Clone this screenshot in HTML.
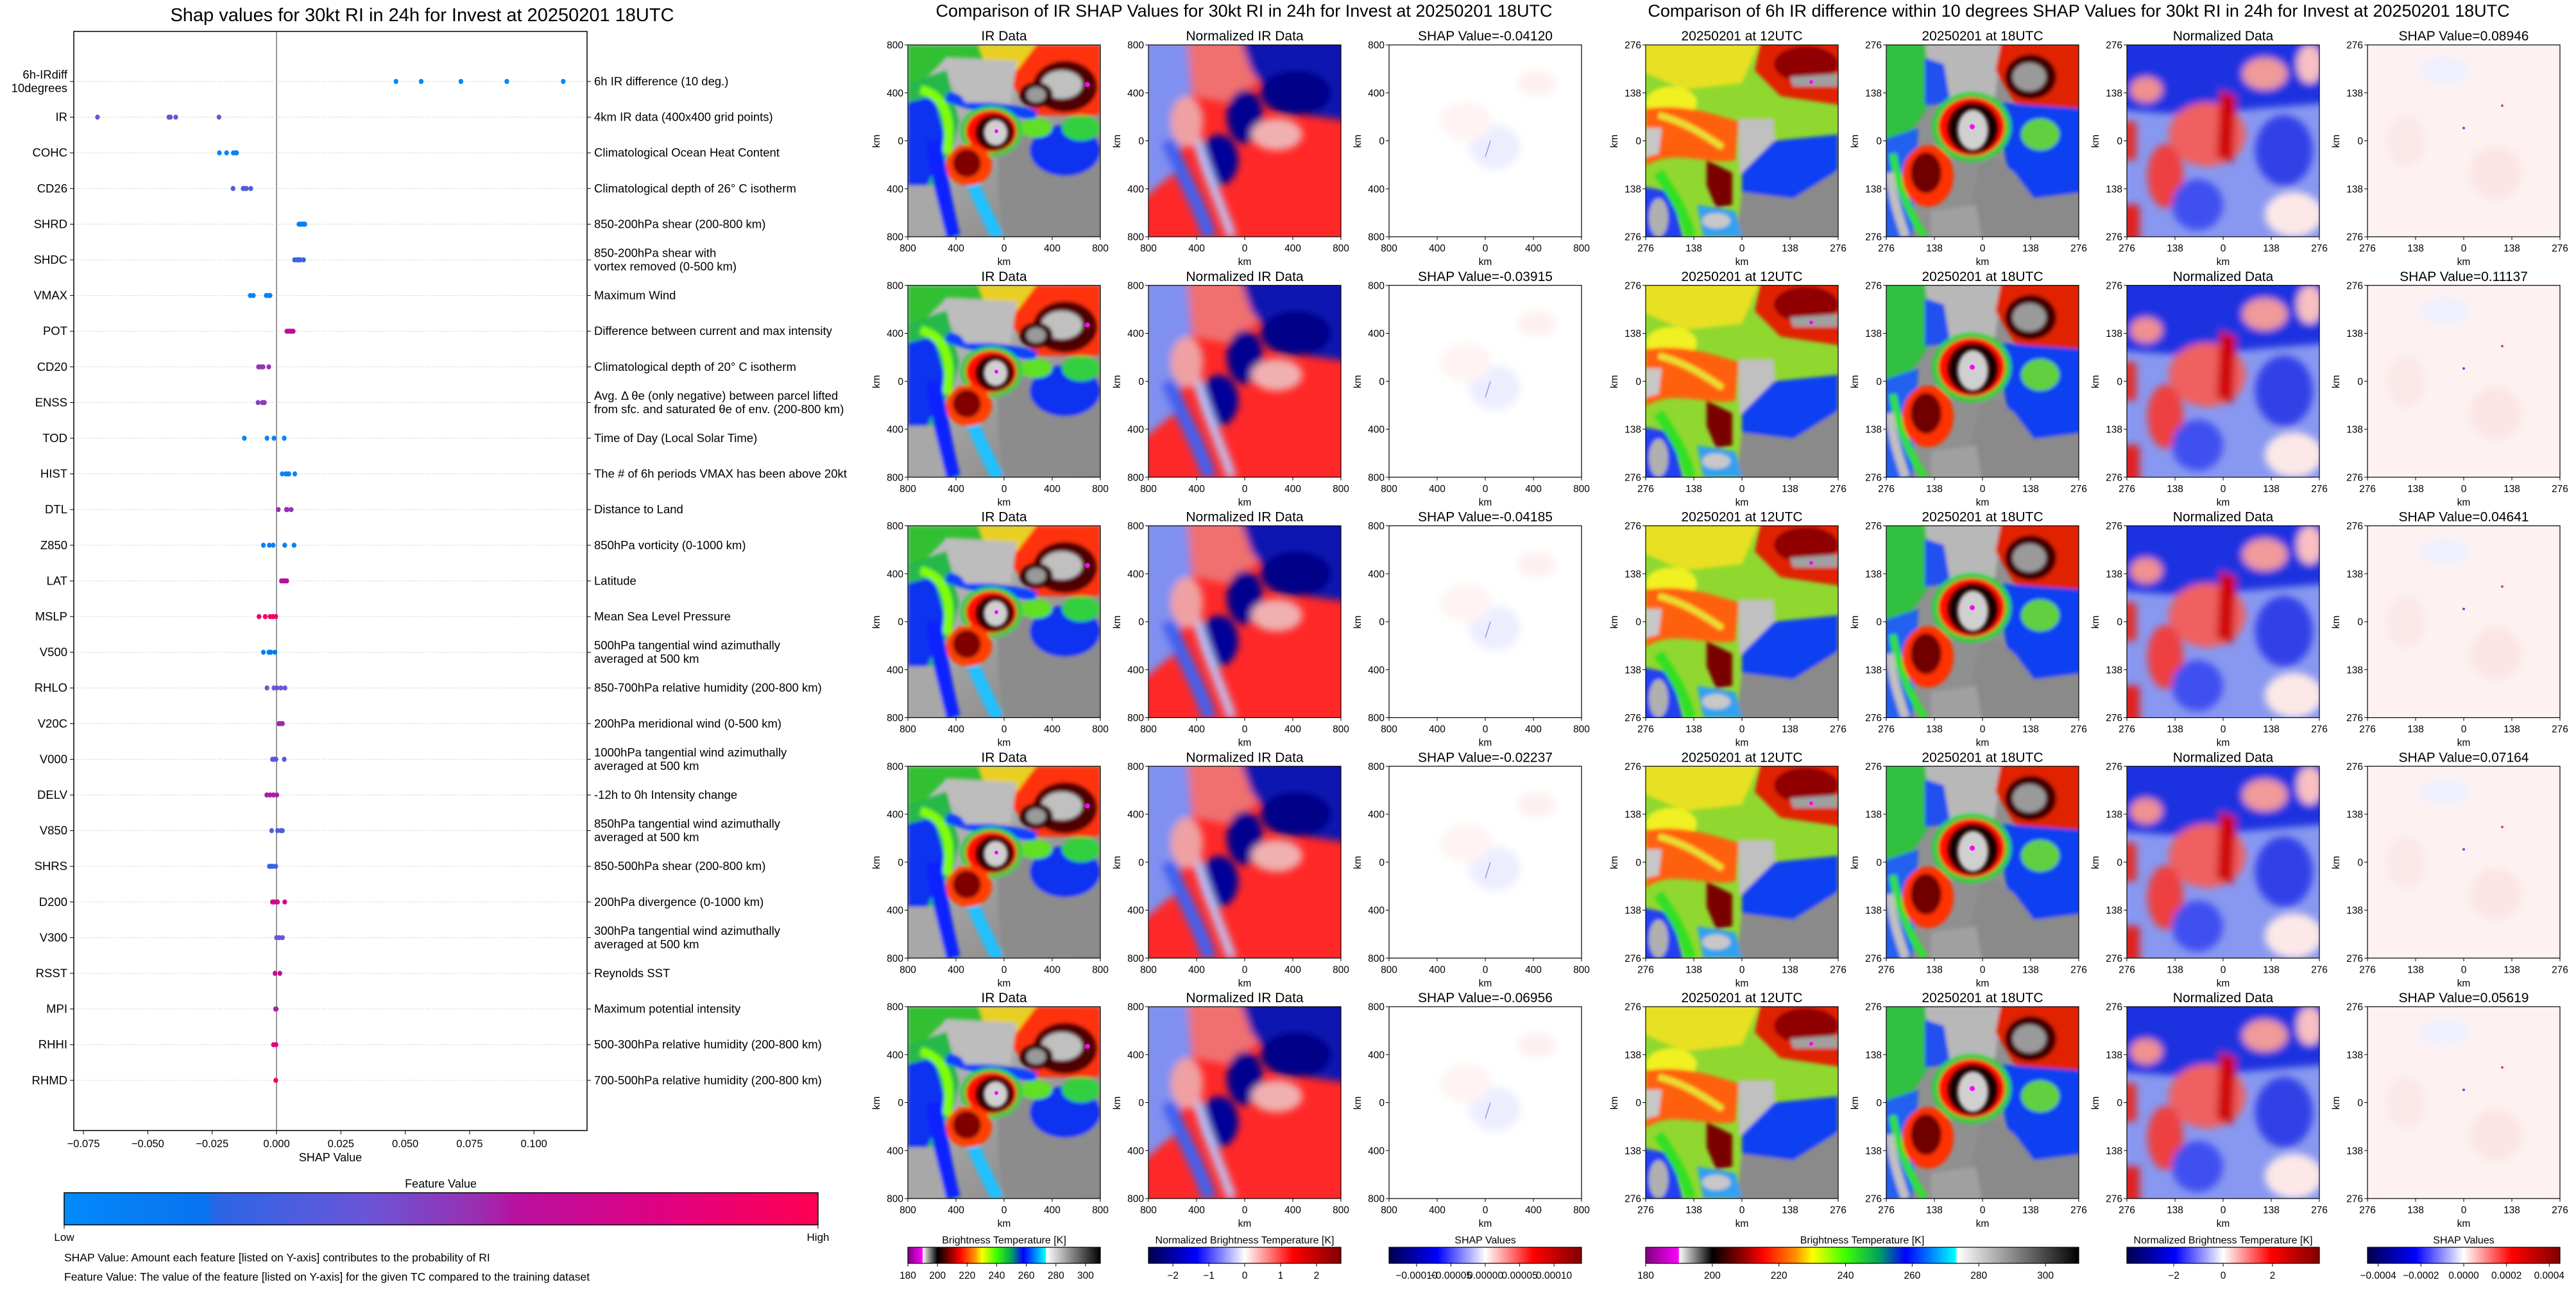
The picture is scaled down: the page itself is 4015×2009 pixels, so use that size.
<!DOCTYPE html>
<html><head><meta charset="utf-8"><style>
html,body{margin:0;padding:0;background:#fff}
svg{display:block;font-family:"Liberation Sans","DejaVu Sans",sans-serif}
</style></head><body>
<svg id="root" xmlns="http://www.w3.org/2000/svg" width="4015" height="2009" viewBox="0 0 4015 2009">
<defs>
<filter id="b3" x="-30%" y="-30%" width="160%" height="160%"><feGaussianBlur stdDeviation="3"/></filter>
<filter id="b6" x="-30%" y="-30%" width="160%" height="160%"><feGaussianBlur stdDeviation="6"/></filter>
<clipPath id="cp"><rect x="0" y="0" width="300" height="300"/></clipPath>
<linearGradient id="featGrad" x1="0" x2="1">
<stop offset="0" stop-color="#008afb"/><stop offset="0.19" stop-color="#0a72ee"/><stop offset="0.2" stop-color="#2a66e6"/><stop offset="0.4" stop-color="#6a55d8"/><stop offset="0.55" stop-color="#9a2eb0"/><stop offset="0.6" stop-color="#b8109e"/><stop offset="0.8" stop-color="#e00080"/><stop offset="1" stop-color="#ff0052"/></linearGradient>
<linearGradient id="irGrad" x1="0" x2="1">
<stop offset="0" stop-color="#800080"/><stop offset="0.076" stop-color="#ff00ff"/><stop offset="0.077" stop-color="#ffffff"/><stop offset="0.154" stop-color="#000000"/><stop offset="0.231" stop-color="#a00000"/><stop offset="0.27" stop-color="#ff0000"/><stop offset="0.346" stop-color="#ff9000"/><stop offset="0.385" stop-color="#ffff00"/><stop offset="0.46" stop-color="#40ff00"/><stop offset="0.54" stop-color="#00a060"/><stop offset="0.6" stop-color="#0000ff"/><stop offset="0.715" stop-color="#00ffff"/><stop offset="0.72" stop-color="#ffffff"/><stop offset="1" stop-color="#000000"/></linearGradient>
<linearGradient id="seisGrad" x1="0" x2="1">
<stop offset="0" stop-color="#00004c"/><stop offset="0.25" stop-color="#0000ff"/><stop offset="0.5" stop-color="#ffffff"/><stop offset="0.75" stop-color="#ff0000"/><stop offset="1" stop-color="#800000"/></linearGradient>
<linearGradient id="grayBg" x1="0" y1="0" x2="1" y2="1"><stop offset="0" stop-color="#c8c8c8"/><stop offset="1" stop-color="#7a7a7a"/></linearGradient>

<symbol id="irFull" viewBox="0 0 300 300" preserveAspectRatio="none">
<g clip-path="url(#cp)">
<rect width="300" height="300" fill="url(#grayBg)"/>
<g filter="url(#b3)">
<path d="M140,150 L300,110 L300,300 L150,300 C140,250 140,200 140,150Z" fill="#8c8c8c"/>
<path d="M0,0 L300,0 L300,40 L170,50 L150,30 L60,20 L20,60 L0,120Z" fill="#30c030"/>
<path d="M150,0 L300,0 L300,110 L200,110 L160,60Z" fill="#ff3010"/>
<path d="M110,0 L200,0 L170,40 L120,30Z" fill="#e8d020"/>
<ellipse cx="245" cy="65" rx="50" ry="40" fill="#500000"/>
<ellipse cx="240" cy="62" rx="32" ry="22" fill="#c0c0c0"/>
<ellipse cx="200" cy="78" rx="26" ry="20" fill="#300000"/>
<ellipse cx="200" cy="78" rx="15" ry="12" fill="#9a9a9a"/>
<path d="M0,60 L60,40 L80,120 L60,200 L80,300 L0,300Z" fill="#28b848"/>
<path d="M0,90 L40,80 L60,150 L30,220 L0,220Z" fill="#1030f0"/>
<path d="M20,70 C60,80 70,120 60,170" stroke="#80ff00" stroke-width="14" fill="none"/>
<path d="M40,150 C50,210 60,260 70,300" stroke="#1020ff" stroke-width="24" fill="none"/>
<path d="M80,160 C100,220 120,260 140,300" stroke="#20c0ff" stroke-width="20" fill="none"/>
<path d="M60,80 C110,100 160,100 200,110" stroke="#1040ff" stroke-width="16" fill="none"/>
<ellipse cx="245" cy="165" rx="55" ry="40" fill="#1030f0"/>
<ellipse cx="270" cy="130" rx="30" ry="20" fill="#30d040"/>
<ellipse cx="200" cy="130" rx="25" ry="15" fill="#60e020"/>
<path d="M60,20 L170,25 L160,90 L90,90 L70,60Z" fill="#bdbdbd"/>
<path d="M0,220 L40,220 L60,300 L0,300Z" fill="#a8a8a8"/>
<ellipse cx="130" cy="135" rx="48" ry="40" fill="#20d040"/>
<ellipse cx="130" cy="135" rx="40" ry="33" fill="#ff1000"/>
<ellipse cx="135" cy="137" rx="30" ry="28" fill="#200000"/>
<ellipse cx="95" cy="188" rx="36" ry="32" fill="#ff4000"/>
<ellipse cx="92" cy="185" rx="22" ry="22" fill="#800000"/>
</g>
<ellipse cx="137" cy="137" rx="19" ry="21" fill="#d0d0d0" filter="url(#b3)"/>
<circle cx="138" cy="135" r="3" fill="#ff00ff"/>
<circle cx="280" cy="62" r="4" fill="#ff00ff"/>
</g>
</symbol>

<symbol id="normFull" viewBox="0 0 300 300" preserveAspectRatio="none">
<g clip-path="url(#cp)">
<rect width="300" height="300" fill="#ff2828"/>
<g filter="url(#b6)">
<path d="M-20,-20 L60,-20 L70,100 L40,200 L-20,250Z" fill="#8090f0"/>
<path d="M60,-20 L150,-20 L170,60 L120,90 L70,80Z" fill="#f07070"/>
<path d="M140,-20 L320,-20 L320,120 L250,110 L200,90 L160,40Z" fill="#0818b0"/>
<ellipse cx="230" cy="75" rx="55" ry="35" fill="#000088"/>
<ellipse cx="150" cy="112" rx="28" ry="42" fill="#000090"/>
<ellipse cx="110" cy="180" rx="30" ry="40" fill="#000098"/>
<path d="M30,150 C50,200 80,250 95,300" stroke="#4060f0" stroke-width="22" fill="none"/>
<path d="M70,120 C80,180 110,240 130,300" stroke="#c0c8ff" stroke-width="14" fill="none"/>
<ellipse cx="200" cy="140" rx="40" ry="25" fill="#f0b0b0"/>
<ellipse cx="60" cy="120" rx="25" ry="40" fill="#f0a0a0"/>
</g>
</g>
</symbol>

<symbol id="shapFull" viewBox="0 0 300 300" preserveAspectRatio="none">
<rect width="300" height="300" fill="#ffffff"/>
<g filter="url(#b6)">
<ellipse cx="165" cy="160" rx="40" ry="35" fill="#eceeff"/>
<ellipse cx="230" cy="60" rx="30" ry="20" fill="#fff0f0"/>
<ellipse cx="120" cy="120" rx="40" ry="30" fill="#fff3f3"/>
</g>
<path d="M150,175 L158,150" stroke="#9098e8" stroke-width="1.5"/>
</symbol>

<symbol id="ir12" viewBox="0 0 300 300" preserveAspectRatio="none">
<g clip-path="url(#cp)">
<rect width="300" height="300" fill="#90d830"/>
<g filter="url(#b3)">
<path d="M-10,-10 L180,-10 L150,60 L60,70 L-10,40Z" fill="#e8e020"/>
<ellipse cx="40" cy="90" rx="40" ry="25" fill="#f0f020"/>
<path d="M180,-10 L310,-10 L310,95 L210,80 L170,40Z" fill="#e02000"/>
<ellipse cx="250" cy="30" rx="50" ry="28" fill="#900000"/>
<path d="M225,50 L300,45 L300,65 L230,65Z" fill="#a0a0a0"/>
<path d="M0,100 C60,90 110,110 145,120 L140,180 C100,190 40,160 0,190Z" fill="#ff6010"/>
<path d="M20,110 C60,120 90,140 120,160" stroke="#e8e030" stroke-width="10" fill="none"/>
<path d="M95,180 L135,200 L135,250 L110,255 L95,220Z" fill="#7a0000"/>
<path d="M145,115 L200,115 L205,200 L145,200Z" fill="#c0c0c0"/>
<path d="M200,150 L300,140 L300,195 L240,250 L150,240 L150,200Z" fill="#1040f0"/>
<path d="M150,230 L230,240 L310,190 L310,310 L140,310Z" fill="#8a8a8a"/>
<path d="M0,130 L25,130 L20,170 L0,175Z" fill="#c8c8c8"/>
<path d="M-10,220 L40,230 L60,310 L-10,310Z" fill="#2040f0"/>
<ellipse cx="20" cy="270" rx="15" ry="30" fill="#b0b0b0"/>
<path d="M80,250 L140,260 L150,300 L90,300Z" fill="#30a0f0"/>
<ellipse cx="110" cy="275" rx="22" ry="12" fill="#c8c8c8"/>
<path d="M20,200 C40,230 60,260 70,300" stroke="#30e020" stroke-width="16" fill="none"/>
</g>
<circle cx="258" cy="58" r="3" fill="#ff00ff"/>
</g>
</symbol>

<symbol id="ir18" viewBox="0 0 300 300" preserveAspectRatio="none">
<g clip-path="url(#cp)">
<rect width="300" height="300" fill="#909090"/>
<g filter="url(#b3)">
<path d="M-10,-10 L80,-10 L70,90 L30,150 L-10,160Z" fill="#30c040"/>
<path d="M60,-10 L180,-10 L170,80 L70,90Z" fill="#b8b8b8"/>
<path d="M60,20 L90,30 L100,90 L60,95Z" fill="#2050f0"/>
<path d="M180,-10 L310,-10 L310,120 L200,90 L170,40Z" fill="#e02000"/>
<ellipse cx="225" cy="50" rx="40" ry="35" fill="#400000"/>
<ellipse cx="223" cy="50" rx="26" ry="22" fill="#9a9a9a"/>
<path d="M170,90 L310,100 L310,240 L220,250 L190,200Z" fill="#1040f0"/>
<ellipse cx="240" cy="140" rx="30" ry="25" fill="#60d040"/>
<path d="M150,160 L200,200 L230,240 L310,230 L310,310 L120,310Z" fill="#8a8a8a"/>
<path d="M-10,150 L50,130 L40,310 L-10,310Z" fill="#2060f0"/>
<path d="M10,170 C20,230 40,270 60,300" stroke="#30e030" stroke-width="12" fill="none"/>
<path d="M5,200 C10,240 20,270 30,300" stroke="#c0c0c0" stroke-width="14" fill="none"/>
<path d="M70,260 L140,250 L150,310 L70,310Z" fill="#a0a0a0"/>
<ellipse cx="133" cy="128" rx="62" ry="55" fill="#30d040"/>
<ellipse cx="133" cy="128" rx="52" ry="46" fill="#ff1000"/>
<ellipse cx="135" cy="130" rx="40" ry="40" fill="#150000"/>
<ellipse cx="65" cy="205" rx="40" ry="48" fill="#ff3000"/>
<ellipse cx="62" cy="200" rx="24" ry="32" fill="#700000"/>
</g>
<ellipse cx="135" cy="133" rx="24" ry="32" fill="#d0d0d0" filter="url(#b3)"/>
<circle cx="134" cy="128" r="4" fill="#ff00ff"/>
</g>
</symbol>

<symbol id="normZoom" viewBox="0 0 300 300" preserveAspectRatio="none">
<g clip-path="url(#cp)">
<rect width="300" height="300" fill="#8898f0"/>
<g filter="url(#b6)">
<path d="M-20,-20 L320,-20 L320,90 L200,100 L100,110 L-20,100Z" fill="#1a30e0"/>
<ellipse cx="215" cy="45" rx="35" ry="25" fill="#f09a9a"/>
<ellipse cx="285" cy="30" rx="20" ry="30" fill="#f8c0c0"/>
<ellipse cx="125" cy="140" rx="60" ry="50" fill="#f06060"/>
<path d="M145,70 L170,80 L165,185 L140,175Z" fill="#d00000"/>
<ellipse cx="60" cy="205" rx="28" ry="50" fill="#ee4040"/>
<ellipse cx="245" cy="165" rx="45" ry="55" fill="#3040e8"/>
<ellipse cx="260" cy="265" rx="45" ry="35" fill="#fde8e8"/>
<ellipse cx="110" cy="250" rx="40" ry="40" fill="#4050f0"/>
<path d="M-10,120 L15,120 L15,180 L-10,180Z" fill="#e03030"/>
<path d="M-10,250 L20,250 L20,310 L-10,310Z" fill="#e02020"/>
<ellipse cx="30" cy="70" rx="25" ry="20" fill="#f09090"/>
</g>
</g>
</symbol>

<symbol id="shapZoom" viewBox="0 0 300 300" preserveAspectRatio="none">
<rect width="300" height="300" fill="#fdf1f1"/>
<g filter="url(#b6)">
<ellipse cx="120" cy="40" rx="40" ry="20" fill="#eef0ff"/>
<ellipse cx="200" cy="200" rx="40" ry="40" fill="#fbe4e4"/>
<ellipse cx="60" cy="150" rx="30" ry="40" fill="#fbe8e8"/>
</g>
<circle cx="150" cy="130" r="2" fill="#4060e0"/>
<circle cx="210" cy="95" r="2" fill="#e04040"/>
</symbol>
</defs>

<!-- ============ LEFT: SHAP beeswarm ============ -->
<g id="beeswarm">
<text x="658" y="33" font-size="29" text-anchor="middle">Shap values for 30kt RI in 24h for Invest at 20250201 18UTC</text>
<g id="bsGrid"></g>
<line x1="431" y1="49" x2="431" y2="1762" stroke="#999" stroke-width="2"/>
<g id="bsDots"></g>
<rect x="115" y="49" width="800" height="1713" fill="none" stroke="#000" stroke-width="1.5"/>
<g id="bsXTicks"></g>
<text x="515" y="1810" font-size="18" text-anchor="middle">SHAP Value</text>
<text x="687" y="1851" font-size="18" text-anchor="middle">Feature Value</text>
<rect x="100" y="1859" width="1175" height="50" fill="url(#featGrad)" stroke="#000" stroke-width="1.5"/>
<line x1="100" y1="1909" x2="100" y2="1915" stroke="#000"/><line x1="1275" y1="1909" x2="1275" y2="1915" stroke="#000"/>
<text x="100" y="1934" font-size="17" text-anchor="middle">Low</text>
<text x="1275" y="1934" font-size="17" text-anchor="middle">High</text>
<text x="100" y="1966" font-size="17.5">SHAP Value: Amount each feature [listed on Y-axis] contributes to the probability of RI</text>
<text x="100" y="1996" font-size="17.5">Feature Value: The value of the feature [listed on Y-axis] for the given TC compared to the training dataset</text>
</g>

<!-- ============ MIDDLE & RIGHT panels ============ -->
<text x="1939" y="26" font-size="27" text-anchor="middle">Comparison of IR SHAP Values for 30kt RI in 24h for Invest at 20250201 18UTC</text>
<text x="3240" y="26" font-size="27" text-anchor="middle">Comparison of 6h IR difference within 10 degrees SHAP Values for 30kt RI in 24h for Invest at 20250201 18UTC</text>
<g id="panels"></g>
<g id="cbars"></g>
</svg>

<script>
const NS = "http://www.w3.org/2000/svg";
// ---------- beeswarm data ----------
const features = ["6h-IRdiff|10degrees","IR","COHC","CD26","SHRD","SHDC","VMAX","POT","CD20","ENSS","TOD","HIST","DTL","Z850","LAT","MSLP","V500","RHLO","V20C","V000","DELV","V850","SHRS","D200","V300","RSST","MPI","RHHI","RHMD"];
const descriptions = ["6h IR difference (10 deg.)","4km IR data (400x400 grid points)","Climatological Ocean Heat Content","Climatological depth of 26° C isotherm","850-200hPa shear (200-800 km)","850-200hPa shear with|vortex removed (0-500 km)","Maximum Wind","Difference between current and max intensity","Climatological depth of 20° C isotherm","Avg. Δ θe (only negative) between parcel lifted|from sfc. and saturated θe of env. (200-800 km)","Time of Day (Local Solar Time)","The # of 6h periods VMAX has been above 20kt","Distance to Land","850hPa vorticity (0-1000 km)","Latitude","Mean Sea Level Pressure","500hPa tangential wind azimuthally|averaged at 500 km","850-700hPa relative humidity (200-800 km)","200hPa meridional wind (0-500 km)","1000hPa tangential wind azimuthally|averaged at 500 km","-12h to 0h Intensity change","850hPa tangential wind azimuthally|averaged at 500 km","850-500hPa shear (200-800 km)","200hPa divergence (0-1000 km)","300hPa tangential wind azimuthally|averaged at 500 km","Reynolds SST","Maximum potential intensity","500-300hPa relative humidity (200-800 km)","700-500hPa relative humidity (200-800 km)"];
const shapValues = [
 [0.04641,0.05619,0.07164,0.08946,0.11137],
 [-0.06956,-0.04185,-0.04120,-0.03915,-0.02237],
 [-0.0222,-0.0194,-0.0168,-0.0158,-0.0155],
 [-0.0169,-0.0130,-0.0125,-0.0117,-0.0100],
 [0.0087,0.0092,0.0097,0.0105,0.0110],
 [0.0070,0.0080,0.0085,0.0092,0.0105],
 [-0.0102,-0.0090,-0.0040,-0.0030,-0.0025],
 [0.0040,0.0048,0.0055,0.0060,0.0065],
 [-0.0070,-0.0060,-0.0052,-0.0030],
 [-0.0072,-0.0055,-0.0050,-0.0047],
 [-0.0125,-0.0037,-0.0010,0.0030],
 [0.0022,0.0036,0.0040,0.0048,0.0071],
 [0.0007,0.0038,0.0042,0.0057],
 [-0.0051,-0.0028,-0.0013,0.0032,0.0068],
 [0.0019,0.0026,0.0033,0.0040],
 [-0.0068,-0.0044,-0.0025,-0.0014,-0.0003],
 [-0.0051,-0.0030,-0.0025,-0.0022,-0.0006],
 [-0.0037,-0.0010,0.0002,0.0017,0.0033],
 [0.0009,0.0015,0.0023],
 [-0.0016,-0.0008,-0.0002,0.0030],
 [-0.0038,-0.0025,-0.0012,0.0001],
 [-0.0019,0.0004,0.0017,0.0023],
 [-0.0028,-0.0020,-0.0015,-0.0003],
 [-0.0016,-0.0008,0.0004,0.0032],
 [0.0000,0.0011,0.0023],
 [-0.0006,0.0013],
 [-0.0004,-0.0001],
 [-0.0012,-0.0002],
 [-0.0003]
];
const featureLevels = [0.02,0.4,0.05,0.33,0.08,0.25,0.06,0.6,0.52,0.5,0.05,0.05,0.53,0.06,0.62,0.92,0.1,0.4,0.56,0.35,0.58,0.32,0.25,0.75,0.38,0.65,0.57,0.82,0.9];
const xTicks = [-0.075,-0.050,-0.025,0.000,0.025,0.050,0.075,0.100];

function xScale(v){ return 431 + v/0.025*100.3; }
function yRow(i){ return 127 + i*55.6; }
function featColor(t){
  const stops=[[0,[0,138,251]],[0.19,[10,114,238]],[0.2,[42,102,230]],[0.4,[106,85,216]],[0.55,[154,46,176]],[0.6,[184,16,158]],[0.8,[224,0,128]],[1,[255,0,82]]];
  for(let k=1;k<stops.length;k++){ if(t<=stops[k][0]){ const a=stops[k-1],b=stops[k],f=(t-a[0])/(b[0]-a[0]||1);
    return "rgb("+a[1].map((c,j)=>Math.round(c+(b[1][j]-c)*f)).join(",")+")"; } }
  return "rgb(255,0,82)";
}
function mk(tag, attrs, parent){ const e=document.createElementNS(NS,tag); for(const k in attrs) e.setAttribute(k,attrs[k]); parent.appendChild(e); return e; }

const grid=document.getElementById("bsGrid"), dots=document.getElementById("bsDots"), xt=document.getElementById("bsXTicks");
features.forEach((f,i)=>{
  const y=yRow(i);
  const gl=mk("line",{x1:115,x2:915,y1:y,y2:y,stroke:"#bbb","stroke-width":1,"stroke-dasharray":"1.5,3"},grid);
  
  
  mk("line",{x1:109,x2:115,y1:y,y2:y,stroke:"#000"},grid);
  mk("line",{x1:915,x2:921,y1:y,y2:y,stroke:"#000"},grid);
  const parts=f.split("|");
  parts.forEach((p,k)=>{
    const t=mk("text",{x:105,y:y+6+(k-(parts.length-1)/2)*21,"font-size":18.5,"text-anchor":"end"},grid);
    t.textContent=p;
    
    
  });
  const dp=descriptions[i].split("|");
  dp.forEach((p,k)=>{
    const t=mk("text",{x:926,y:y+6+(k-(dp.length-1)/2)*21,"font-size":18.5},grid);
    t.textContent=p;
    
    
  });
  shapValues[i].forEach(v=>{
    const c=mk("ellipse",{cx:xScale(v),cy:y,rx:3.6,ry:4,fill:featColor(featureLevels[i])},dots);
    
    
  });
});
xTicks.forEach(v=>{
  const x=xScale(v);
  mk("line",{x1:x,x2:x,y1:1762,y2:1768,stroke:"#000"},xt);
  const t=mk("text",{x:x,y:1788,"font-size":16.5,"text-anchor":"middle"},xt);
  t.textContent=(v<0?"\u2212":"")+Math.abs(v).toFixed(3);
  
  
});

// ---------- image panels ----------
const midCols=[1415,1790,2165], rightCols=[2565,2940,3315,3690];
const midTitles=["IR Data","Normalized IR Data","SHAP Value="];
const midShap=["-0.04120","-0.03915","-0.04185","-0.02237","-0.06956"];
const rightShap=["0.08946","0.11137","0.04641","0.07164","0.05619"];
const rightTitles=["20250201 at 12UTC","20250201 at 18UTC","Normalized Data","SHAP Value="];
const midSyms=["irFull","normFull","shapFull"], rightSyms=["ir12","ir18","normZoom","shapZoom"];
const P=document.getElementById("panels");
function panel(x,y,sym,title,ticks){
  const g=mk("g",{},P);
  
  
  mk("use",{href:"#"+sym,x:x,y:y,width:300,height:299},g);
  mk("rect",{x:x,y:y,width:300,height:299,fill:"none",stroke:"#000","stroke-width":1.2},g);
  const t=mk("text",{x:x+150,y:y-7,"font-size":21,"text-anchor":"middle"},g);
  t.textContent=title;
  ticks.forEach((lab,k)=>{
    const tx=x+k*75, ty=y+k*74.75;
    mk("line",{x1:tx,x2:tx,y1:y+299,y2:y+304,stroke:"#000"},g);
    mk("line",{x1:x-5,x2:x,y1:ty,y2:ty,stroke:"#000"},g);
    const a=mk("text",{x:tx,y:y+322,"font-size":15.5,"text-anchor":"middle"},g); a.textContent=lab;
    const b=mk("text",{x:x-7,y:ty+5.5,"font-size":15.5,"text-anchor":"end"},g); b.textContent=lab;
  });
  const kx=mk("text",{x:x+150,y:y+343,"font-size":15.5,"text-anchor":"middle"},g); kx.textContent="km";
  const ky=mk("text",{x:0,y:0,"font-size":15.5,"text-anchor":"middle",transform:"translate("+(x-44)+","+(y+150)+") rotate(-90)"},g); ky.textContent="km";
}
for(let r=0;r<5;r++){
  const y=70+r*374.75;
  midCols.forEach((x,c)=>panel(x,y,midSyms[c],c==2?midTitles[c]+midShap[r]:midTitles[c],["800","400","0","400","800"]));
  rightCols.forEach((x,c)=>panel(x,y,rightSyms[c],c==3?rightTitles[c]+rightShap[r]:rightTitles[c],["276","138","0","138","276"]));
}

// ---------- colorbars ----------
const CB=document.getElementById("cbars");
function cbar(x,w,grad,title,lo,hi,ticks,labels){
  const g=mk("g",{},CB);
  
  
  const t=mk("text",{x:x+w/2,y:1938,"font-size":16,"text-anchor":"middle"},g); t.textContent=title;
  mk("rect",{x:x,y:1944,width:w,height:25,fill:"url(#"+grad+")",stroke:"#000","stroke-width":1.2},g);
  ticks.forEach((v,k)=>{
    const tx=x+(v-lo)/(hi-lo)*w;
    mk("line",{x1:tx,x2:tx,y1:1969,y2:1974,stroke:"#000"},g);
    const l=mk("text",{x:tx,y:1993,"font-size":15.5,"text-anchor":"middle"},g); l.textContent=labels[k];
  });
}
const irTicks=[180,200,220,240,260,280,300];
const irLabels=irTicks.map(String);
cbar(1415,300,"irGrad","Brightness Temperature [K]",180,310,irTicks,irLabels);
cbar(1790,300,"seisGrad","Normalized Brightness Temperature [K]",-2.68,2.68,[-2,-1,0,1,2],["\u22122","\u22121","0","1","2"]);
cbar(2165,300,"seisGrad","SHAP Values",-0.00014,0.00014,[-0.0001,-0.00005,0,0.00005,0.0001],["\u22120.00010","\u22120.00005","0.00000","0.00005","0.00010"]);
cbar(2565,675,"irGrad","Brightness Temperature [K]",180,310,irTicks,irLabels);
cbar(3315,300,"seisGrad","Normalized Brightness Temperature [K]",-3.9,3.9,[-2,0,2],["\u22122","0","2"]);
cbar(3690,300,"seisGrad","SHAP Values",-0.00045,0.00045,[-0.0004,-0.0002,0,0.0002,0.0004],["\u22120.0004","\u22120.0002","0.0000","0.0002","0.0004"]);
</script>
</body></html>
